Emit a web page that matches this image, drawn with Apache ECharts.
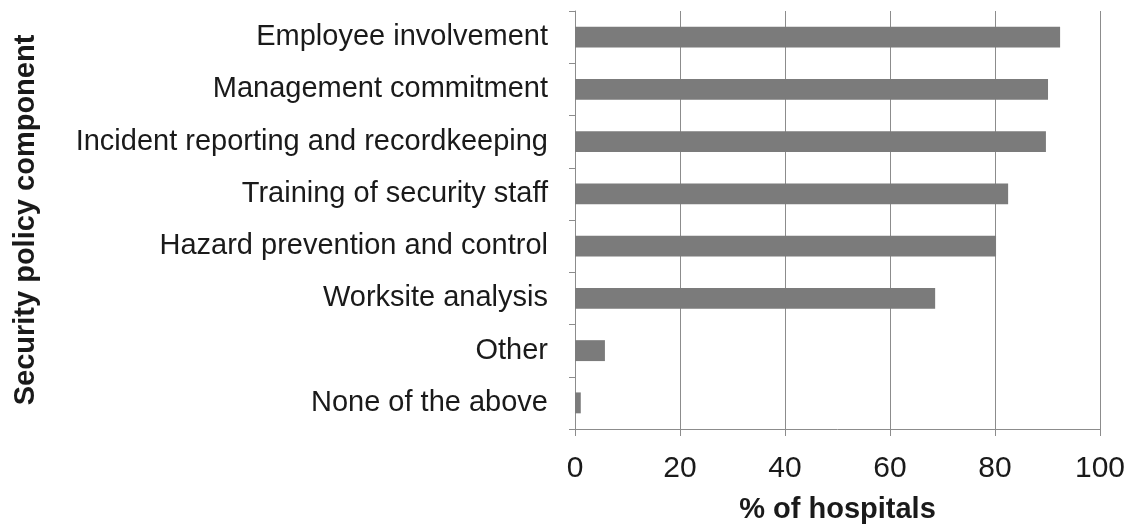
<!DOCTYPE html>
<html>
<head>
<meta charset="utf-8">
<script src="https://cdn.jsdelivr.net/npm/echarts@6/dist/echarts.min.js"></script>
<style>
  html, body { margin: 0; padding: 0; background: #fff; }
  #chart { width: 1131px; height: 529px; }
</style>
</head>
<body>
<div id="chart"></div>
<script>
var categories = [
  'Employee involvement',
  'Management commitment',
  'Incident reporting and recordkeeping',
  'Training of security staff',
  'Hazard prevention and control',
  'Worksite analysis',
  'Other',
  'None of the above'
];
var hospitalPct = [92.4, 90.1, 89.7, 82.5, 80.2, 68.6, 5.7, 1.1];
var xTicks = [0, 20, 40, 60, 80, 100];

var chart = echarts.init(document.getElementById('chart'));

var option = {
  backgroundColor: '#fff',
  textStyle: { fontFamily: 'Liberation Sans, Arial, sans-serif' },
  grid: {
    left: 575,
    right: 31,
    top: 11,
    bottom: 94
  },
  xAxis: {
    type: 'value',
    min: xTicks[0],
    max: xTicks[xTicks.length - 1],
    interval: 20,
    name: '% of hospitals',
    nameLocation: 'middle',
    nameGap: 66,
    nameTextStyle: { fontSize: 29, fontWeight: 'bold', color: '#1a1a1a' },
    axisLine: { show: true, lineStyle: { color: '#8c8c8c' } },
    axisTick: { show: true, length: 7, lineStyle: { color: '#8c8c8c' } },
    axisLabel: { fontSize: 30, color: '#1a1a1a', margin: 25 },
    splitLine: { show: true, lineStyle: { color: '#8c8c8c', width: 1 } }
  },
  yAxis: {
    type: 'category',
    data: categories,
    inverse: true,
    name: 'Security policy component',
    nameLocation: 'middle',
    nameGap: 535,
    nameRotate: 90,
    nameTextStyle: { fontSize: 29, fontWeight: 'bold', color: '#1a1a1a' },
    axisLine: { show: true, lineStyle: { color: '#8c8c8c' } },
    axisTick: { show: true, length: 6, lineStyle: { color: '#8c8c8c' } },
    axisLabel: { fontSize: 29, color: '#1a1a1a', margin: 27 },
    splitLine: { show: false }
  },
  series: [{
    type: 'bar',
    data: hospitalPct,
    barWidth: '40%',
    itemStyle: { color: '#7b7b7b' }
  }]
};

chart.setOption(option);
</script>
</body>
</html>
